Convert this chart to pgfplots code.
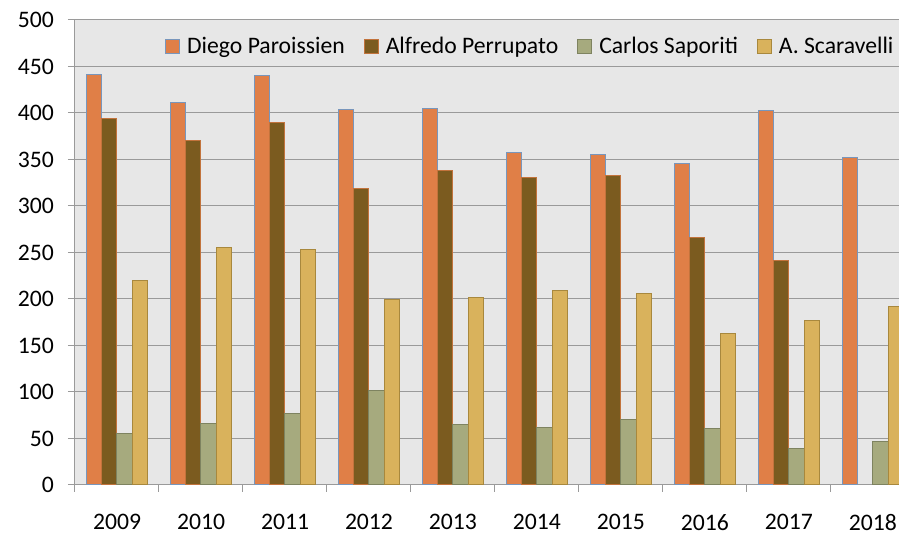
\documentclass[border=0pt]{standalone}
\usepackage{pgfplots}
\pgfplotsset{compat=1.18}
\usepackage{fontspec}
\setmainfont{Carlito}
\definecolor{cOr}{HTML}{E07F47}
\definecolor{cOrE}{HTML}{7896BC}
\definecolor{cBr}{HTML}{7B5B1F}
\definecolor{cBrE}{HTML}{C2733C}
\definecolor{cGr}{HTML}{A6AA7E}
\definecolor{cGrE}{HTML}{7E8360}
\definecolor{cYe}{HTML}{D9B25C}
\definecolor{cYeE}{HTML}{A8883D}
\definecolor{bgc}{HTML}{E7E7E7}
\definecolor{gridc}{HTML}{9A9A9A}
\begin{document}
\begin{tikzpicture}
\useasboundingbox (-56.25pt,-36.75pt) rectangle (618pt,363.75pt);
\begin{axis}[
  scale only axis,
  width=618pt, height=348.75pt,
  xmin=-0.5, xmax=9.31,
  ymin=0, ymax=500,
  ybar=0pt, bar width=0.182,
  axis background/.style={fill=bgc},
  axis x line=bottom, axis y line=left,
  axis line style={-, draw=gridc, line width=0.75pt},
  ymajorgrids, grid style={draw=gridc, line width=0.75pt},
  ytick={0,50,...,500},
  xtick={0,...,9},
  xticklabels={2009,2010,2011,2012,2013,2014,2015,2016,2017,2018},
  minor xtick={-0.5,0.5,...,8.5},
  tick align=outside,
  major tick length=5.25pt, minor tick length=5.25pt,
  major x tick style={draw=none},
  minor x tick style={draw=gridc, line width=0.75pt},
  ytick style={draw=gridc, line width=0.75pt},
  /pgf/number format/assume math mode=true,
  every tick label/.append style={font=\fontsize{17.75}{20}\selectfont},
  xticklabel style={yshift=-13pt},
  yticklabel style={xshift=-7pt},
  legend columns=-1,
  legend style={draw=none, fill=none, inner sep=0pt,
    at={(1,0.944)}, anchor=east, xshift=-4pt,
    font=\fontsize{17.75}{20}\selectfont,
    nodes={inner sep=0pt, anchor=west},
    /tikz/every even column/.append style={column sep=14.25pt}},
  legend image code/.code={\draw[#1, line width=0.75pt] (0pt,-5.25pt) rectangle (10.5pt,5.25pt); \path (15.75pt,0pt);},
]
\addplot[fill=cOr, draw=cOrE, line width=0.75pt] coordinates {(0,441) (1,411) (2,440) (3,404) (4,405) (5,357) (6,355) (7,346) (8,403) (9,352)};
\addplot[fill=cBr, draw=cBrE, line width=0.75pt] coordinates {(0,394) (1,370) (2,390) (3,319) (4,338) (5,331) (6,333) (7,266) (8,241)};
\addplot[fill=cGr, draw=cGrE, line width=0.75pt] coordinates {(0,55) (1,66) (2,77) (3,102) (4,65) (5,62) (6,70) (7,61) (8,39) (9,47)};
\addplot[fill=cYe, draw=cYeE, line width=0.75pt] coordinates {(0,220) (1,255) (2,253) (3,199) (4,202) (5,209) (6,206) (7,163) (8,177) (9,192)};
\legend{Diego Paroissien, Alfredo Perrupato, Carlos Saporiti, A. Scaravelli}
\end{axis}
\end{tikzpicture}
\end{document}
